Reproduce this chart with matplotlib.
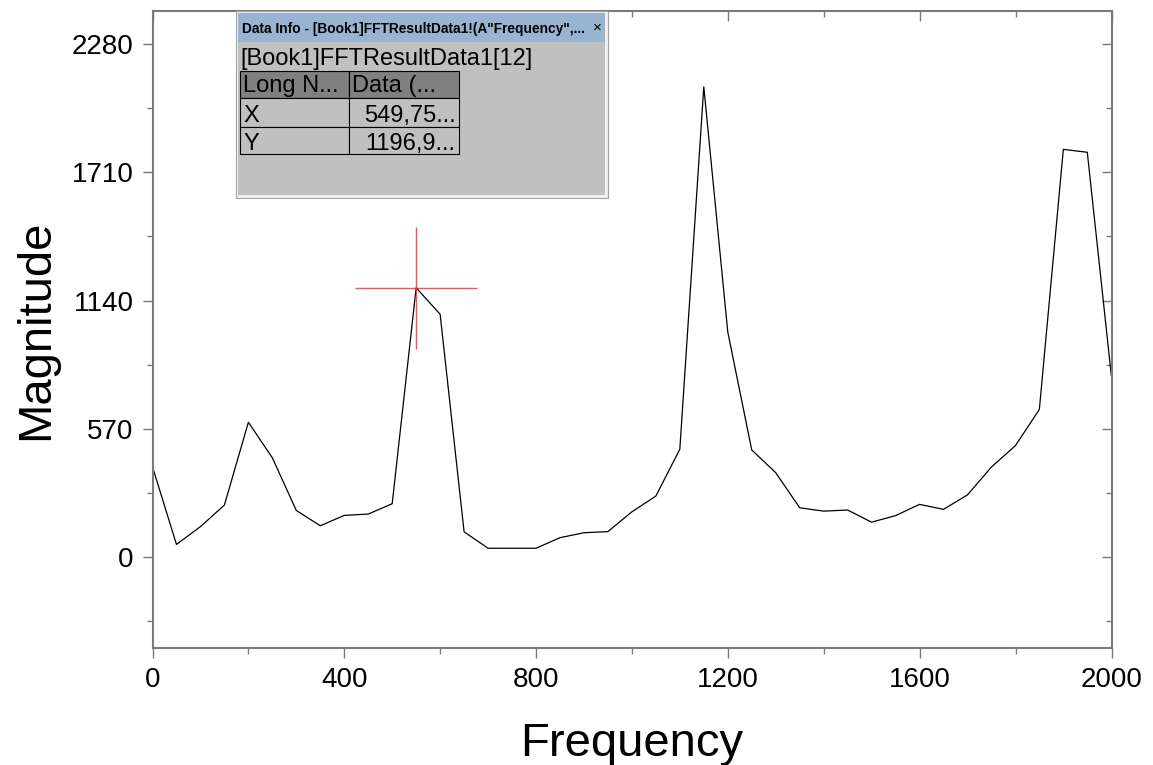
import numpy as np
import matplotlib
matplotlib.use("Agg")
import matplotlib.pyplot as plt
from matplotlib.ticker import MultipleLocator, FixedLocator
from matplotlib.patches import Rectangle

# ---------------- data ----------------
freq = [0, 49.98, 99.95, 149.93, 199.91, 249.89, 299.86, 349.84, 399.82, 449.80,
        499.77, 549.75, 599.73, 649.70, 699.68, 749.66, 799.64, 849.61, 899.59, 949.57,
        999.55, 1049.52, 1099.50, 1149.48, 1199.45, 1249.43, 1299.41, 1349.39, 1399.36,
        1449.34, 1499.32, 1549.30, 1599.27, 1649.25, 1699.23, 1749.20, 1799.18, 1849.16,
        1899.14, 1949.11, 1999.09]
magnitude = [401, 56, 135, 231, 599, 441, 207, 139, 185, 191,
             237, 1196.9, 1079, 112, 39, 39, 39, 86, 108, 113,
             201, 271, 479, 2090, 1001, 476, 375, 219, 204, 209,
             155, 184, 234, 212, 276, 400, 495, 656, 1812, 1799, 809]
x_ticks = [0, 400, 800, 1200, 1600, 2000]
y_ticks = [0, 570, 1140, 1710, 2280]
cursor_index = 11

info_title = 'Data Info - [Book1]FFTResultData1!(A"Frequency",...'
info_sub = "[Book1]FFTResultData1[12]"
info_header = ["Long N...", "Data (..."]
info_rows = [["X", "549,75..."], ["Y", "1196,9..."]]

# ---------------- figure ----------------
W, H = 1153, 765
plt.rcParams['font.family'] = ['Liberation Sans', 'DejaVu Sans']
fig = plt.figure(figsize=(W / 100, H / 100), dpi=100)

L, R, T, B = 152.5, 1111.7, 11.0, 647.7
ax = fig.add_axes([L / W, 1 - B / H, (R - L) / W, (B - T) / H])

ax.plot(freq, magnitude, color='black', lw=0.9)
ax.plot(freq[cursor_index], magnitude[cursor_index], marker='+', ms=88,
        mew=1.0, color='#ff3030', alpha=0.85)

ax.set_xlim(0, 2000)
ax.set_ylim(-403, 2427)

gray = '#7a7a7a'
for s in ax.spines.values():
    s.set_color(gray)
    s.set_linewidth(1.5)

ax.xaxis.set_major_locator(FixedLocator(x_ticks))
ax.xaxis.set_minor_locator(MultipleLocator(200))
ax.yaxis.set_major_locator(FixedLocator(y_ticks))
ax.yaxis.set_minor_locator(MultipleLocator(285))
ax.tick_params(which='major', direction='out', length=7.2, width=1.0, color=gray,
               labelsize=20, pad=6.5, top=False, right=False)
ax.tick_params(which='minor', direction='out', length=4.3, width=1.0, color=gray,
               top=False, right=False)

# mirrored inward ticks on top/right
secx = ax.secondary_xaxis('top')
secx.xaxis.set_major_locator(FixedLocator(x_ticks))
secx.xaxis.set_minor_locator(MultipleLocator(200))
secx.tick_params(which='major', direction='in', length=7.2, width=1.0, color=gray, labeltop=False)
secx.tick_params(which='minor', direction='in', length=4.3, width=1.0, color=gray)
secx.spines['top'].set_visible(False)
secy = ax.secondary_yaxis('right')
secy.yaxis.set_major_locator(FixedLocator(y_ticks))
secy.yaxis.set_minor_locator(MultipleLocator(285))
secy.tick_params(which='major', direction='in', length=7.2, width=1.0, color=gray, labelright=False)
secy.tick_params(which='minor', direction='in', length=4.3, width=1.0, color=gray)
secy.spines['right'].set_visible(False)

ax.set_xlabel('Frequency', fontsize=34, va='baseline')
ax.xaxis.set_label_coords(0.5, (B - 755.5) / (B - T))
ax.set_ylabel('Magnitude', fontsize=34, rotation=90, rotation_mode='anchor',
              ha='center', va='baseline')
ax.yaxis.set_label_coords((48 - L) / (R - L), 0.5)

# ---------------- Data Info panel ----------------
def rect(x0, y0, x1, y1, **kw):
    fig.add_artist(Rectangle((x0 / W, 1 - y1 / H), (x1 - x0) / W, (y1 - y0) / H,
                             transform=fig.transFigure, **kw))

def text(x, y, s, **kw):
    fig.text(x / W, 1 - y / H, s, **kw)

rect(235.5, 11.5, 607.5, 197.5, facecolor='#f0f0f0', edgecolor='#a0a0a0', lw=0.8)
rect(238, 13, 605, 42.3, facecolor='#99b4d1', edgecolor='none')
rect(238, 42.3, 605, 195, facecolor='#c0c0c0', edgecolor='none')
text(242, 33.5, info_title, fontsize=9.9, fontweight='bold', va='baseline')
text(597, 28, '×', fontsize=11, va='center', ha='center')
text(240, 65, info_sub, fontsize=17, va='baseline')

col_x = [240, 349.3, 458.7]
row_y = [70.7, 98.3, 126.7, 154.3]
for c in range(2):
    rect(col_x[c], row_y[0], col_x[c + 1], row_y[1], facecolor='#808080',
         edgecolor='black', lw=0.8)
    text(col_x[c] + 3, row_y[1] - 6.6, info_header[c], fontsize=17, va='baseline')
for r, row in enumerate(info_rows):
    for c in range(2):
        rect(col_x[c], row_y[r + 1], col_x[c + 1], row_y[r + 2], facecolor='#c0c0c0',
             edgecolor='black', lw=0.8)
    text(col_x[0] + 3, row_y[r + 2] - 4.5, row[0], fontsize=17, va='baseline')
    text(col_x[2] - 3, row_y[r + 2] - 4.5, row[1], fontsize=17, va='baseline', ha='right')

fig.savefig('out.png', dpi=100)
